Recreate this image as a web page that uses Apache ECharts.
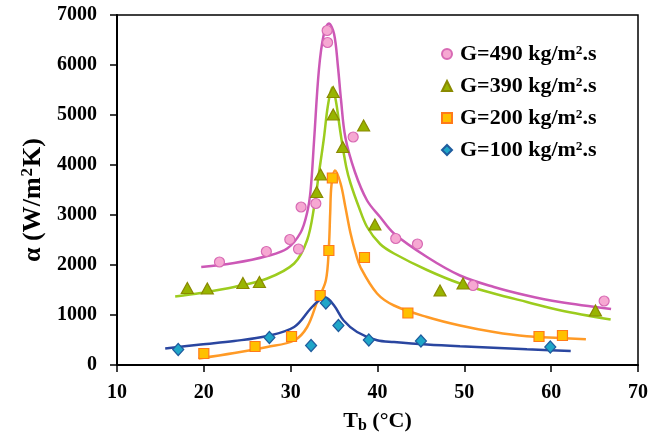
<!DOCTYPE html>
<html>
<head>
<meta charset="utf-8">
<script src="https://cdn.jsdelivr.net/npm/echarts@6/dist/echarts.min.js"></script>
<style>
  html, body { margin: 0; padding: 0; background: #fff; }
  #chart { width: 668px; height: 432px; }
</style>
</head>
<body>
<div id="chart"></div>
<script>
// measured points, T (°C) and alpha (W/m2K)
var g490T = [21.8, 27.2, 29.9, 30.9, 31.2, 32.9, 34.2, 34.25, 37.2, 42.1, 44.6, 51.0, 66.1];
var g490A = [2060, 2270, 2510, 2320, 3160, 3230, 6690, 6450, 4560, 2530, 2420, 1590, 1280];
var g390T = [18.1, 20.4, 24.5, 26.4, 33.0, 33.45, 34.9, 34.9, 36.0, 38.4, 39.7, 47.2, 49.85, 65.1];
var g390A = [1540, 1530, 1640, 1660, 3460, 3810, 5460, 5010, 4360, 4790, 2810, 1490, 1630, 1090];
var g200T = [20.0, 25.9, 30.1, 33.4, 34.4, 34.8, 38.5, 43.5, 58.6, 61.3];
var g200A = [230, 370, 570, 1390, 2290, 3740, 2150, 1040, 570, 590];
var g100T = [17.05, 27.55, 32.35, 34.05, 35.5, 39.0, 45.0, 59.9];
var g100A = [310, 550, 390, 1240, 790, 500, 480, 360];

// fitted curves
var fit490T = [19.7, 23.5, 27.3, 29.6, 31.15, 31.9, 32.3, 32.7, 33.25, 33.8, 34.4, 35.0, 35.45, 35.8, 36.3, 37.4, 38.8, 40.3, 41.9, 45.7, 49.5, 53.4, 57.2, 61.0, 66.9];
var fit490A = [1960, 2040, 2180, 2330, 2650, 3050, 3500, 4500, 5900, 6600, 6830, 6620, 5960, 5300, 4550, 3860, 3290, 2960, 2630, 2160, 1790, 1560, 1390, 1260, 1120];
var fit390T = [16.7, 19.65, 23.5, 27.3, 30.4, 31.9, 32.7, 33.25, 33.8, 34.3, 34.8, 35.2, 35.75, 36.4, 36.9, 37.85, 38.8, 40.3, 41.9, 45.7, 49.5, 53.4, 57.2, 61.0, 66.85];
var fit390A = [1370, 1440, 1560, 1730, 2030, 2500, 3160, 3830, 4500, 5200, 5550, 5290, 4630, 3960, 3630, 3160, 2760, 2420, 2230, 1900, 1630, 1430, 1260, 1094, 908];
var fit200T = [19.4, 23.5, 27.3, 30.4, 31.9, 33.1, 34.05, 34.4, 34.55, 34.7, 35.1, 35.75, 36.3, 36.9, 37.5, 38.05, 39.95, 41.9, 45.7, 49.5, 53.4, 57.2, 61.0, 64.0];
var fit200A = [130, 240, 360, 490, 760, 1290, 1690, 2360, 3030, 3600, 3890, 3630, 3160, 2630, 2230, 1950, 1430, 1190, 960, 790, 660, 574, 540, 514];
var fit100T = [15.55, 19.65, 23.5, 27.3, 30.4, 32.3, 33.25, 34.0, 35.0, 36.1, 37.65, 39.95, 41.9, 45.7, 49.5, 57.2, 62.25];
var fit100A = [330, 410, 480, 580, 760, 1130, 1290, 1350, 1190, 890, 660, 494, 460, 410, 374, 314, 280];

var names = ['G=490 kg/m\u00b2.s', 'G=390 kg/m\u00b2.s', 'G=200 kg/m\u00b2.s', 'G=100 kg/m\u00b2.s'];

function zip(xs, ys) {
    var out = [];
    for (var i = 0; i < xs.length; i++) out.push([xs[i], ys[i]]);
    return out;
}

var serif = '"Liberation Serif", "Times New Roman", serif';

function fitLine(xs, ys, color) {
    return {
        type: 'line',
        data: zip(xs, ys),
        smooth: 0.35,
        symbol: 'none',
        lineStyle: { color: color, width: 2.5 },
        silent: true,
        z: 2
    };
}

function points(name, xs, ys, symbol, size, fill, border) {
    return {
        name: name,
        type: 'scatter',
        data: zip(xs, ys),
        symbol: symbol,
        symbolSize: size,
        itemStyle: { color: fill, borderColor: border, borderWidth: 1.2, opacity: 1 },
        z: 3
    };
}

var chart = echarts.init(document.getElementById('chart'));

chart.setOption({
    animation: false,
    grid: {
        left: 117, right: 30, top: 15, bottom: 67,
        outerBoundsMode: 'none',
        containLabel: false,
        show: true, borderColor: '#000', borderWidth: 1.5
    },
    legend: {
        data: names,
        orient: 'vertical',
        left: 436, top: 38,
        itemWidth: 10, itemHeight: 10,
        itemGap: 10,
        textStyle: { fontFamily: serif, fontWeight: 'bold', fontSize: 22, color: '#000', padding: [0, 0, 0, 3] }
    },
    xAxis: {
        type: 'value',
        min: 10, max: 70, interval: 10,
        name: '{t|T}{s|b}{t| (\u00b0C)}',
        nameLocation: 'middle',
        nameGap: 43,
        nameTextStyle: {
            rich: {
                t: { fontFamily: serif, fontWeight: 'bold', fontSize: 22, lineHeight: 26, color: '#000' },
                s: { fontFamily: serif, fontWeight: 'bold', fontSize: 16, lineHeight: 14, verticalAlign: 'bottom', color: '#000' }
            }
        },
        axisLine: { lineStyle: { color: '#000', width: 2 } },
        axisTick: { length: 7, lineStyle: { color: '#000', width: 1.5 } },
        axisLabel: { fontFamily: serif, fontWeight: 'bold', fontSize: 20, color: '#000', margin: 18 },
        splitLine: { show: false }
    },
    yAxis: {
        type: 'value',
        min: 0, max: 7000, interval: 1000,
        name: '{a|\u03b1 (W/m}{p|2}{a|K)}',
        nameLocation: 'middle',
        nameGap: 70,
        nameTextStyle: {
            padding: [0, 20, 0, 0],
            rich: {
                a: { fontFamily: serif, fontWeight: 'bold', fontSize: 26, lineHeight: 28, color: '#000' },
                p: { fontFamily: serif, fontWeight: 'bold', fontSize: 17, lineHeight: 28, verticalAlign: 'top', padding: [0, 1, 10, 1], color: '#000' }
            }
        },
        axisLine: { lineStyle: { color: '#000', width: 2 } },
        axisTick: { length: 7, lineStyle: { color: '#000', width: 1.5 } },
        axisLabel: {
            fontFamily: serif, fontWeight: 'bold', fontSize: 20, color: '#000', margin: 20,
            formatter: function (v) { return String(v); }
        },
        splitLine: { show: false }
    },
    series: [
        fitLine(fit490T, fit490A, '#cc58b6'),
        fitLine(fit390T, fit390A, '#9ccc1e'),
        fitLine(fit200T, fit200A, '#ff9a26'),
        fitLine(fit100T, fit100A, '#2a46a0'),
        points(names[0], g490T, g490A, 'circle', 10, '#f6a8d2', '#d86ab4'),
        points(names[1], g390T, g390A, 'triangle', [12, 11], '#98b400', '#8a8a00'),
        points(names[2], g200T, g200A, 'rect', 10, '#ffc000', '#ff7a1a'),
        points(names[3], g100T, g100A, 'diamond', [11, 12], '#1fa6c8', '#1f5c9e')
    ]
});
</script>
</body>
</html>
